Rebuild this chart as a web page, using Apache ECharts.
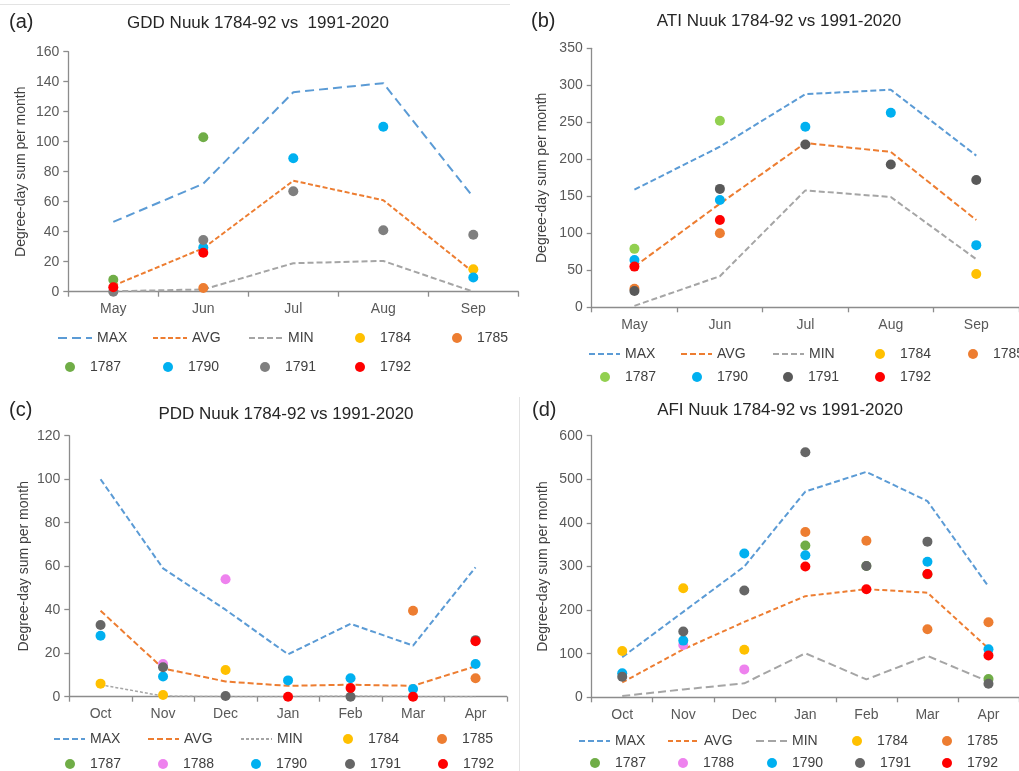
<!DOCTYPE html>
<html><head><meta charset="utf-8">
<script src="https://cdn.jsdelivr.net/npm/echarts@6/dist/echarts.min.js"></script>
<style>
html,body{margin:0;padding:0;background:#fff;}
.c{position:absolute;left:0;top:0;width:1019px;height:771px;}
</style></head><body>
<div id="pa" class="c"></div>
<div id="pb" class="c"></div>
<div id="pc" class="c"></div>
<div id="pd" class="c"></div>
<script>
// ---------- DATA ----------
const summerMonths = ['May', 'Jun', 'Jul', 'Aug', 'Sep'];
const winterMonths = ['Oct', 'Nov', 'Dec', 'Jan', 'Feb', 'Mar', 'Apr'];

// (a) GDD
const gddMax = [46.5, 72, 133, 139, 63];
const gddAvg = [4, 29, 74, 61, 13];
const gddMin = [0.3, 1.5, 19, 20.5, 0];
const gdd1784 = [null, null, null, null, 15];
const gdd1785 = [null, 2.5, null, null, null];
const gdd1787 = [8, 103, null, null, null];
const gdd1790 = [null, 29.5, 89, 110, 9.5];
const gdd1791 = [0, 34.5, 67, 41, 38];
const gdd1792 = [3, 26, null, null, null];

// (b) ATI
const atiMax = [159, 217, 288, 294, 205];
const atiAvg = [55, 140, 222, 210, 118];
const atiMin = [2, 42, 158, 149, 65];
const ati1784 = [null, null, null, null, 45];
const ati1785 = [25, 100, null, null, null];
const ati1787 = [79, 252, null, null, null];
const ati1790 = [64, 145, 244, 263, 84];
const ati1791 = [22, 160, 220, 193, 172];
const ati1792 = [55, 118, null, null, null];

// (c) PDD
const pddMax = [100, 59, 40, 19.5, 33.5, 23.5, 59.5];
const pddAvg = [39.5, 13, 7, 5, 5.5, 5, 14];
const pddMin = [5.5, 0.3, 0, 0, 0.3, 0, 0];
const pdd1784 = [6, 0.8, 12.3, null, null, null, null];
const pdd1785 = [null, null, null, null, null, 39.5, 8.5];
const pdd1787 = [null, null, null, null, null, null, null];
const pdd1788 = [null, 15, 54, null, null, null, null];
const pdd1790 = [28, 9.3, null, 7.5, 8.5, 3.5, 15];
const pdd1791 = [33, 13.5, 0.3, null, 0, null, 26];
const pdd1792 = [null, null, null, 0, 4, 0, 25.5];

// (d) AFI
const afiMax = [92, 196, 300, 472, 517, 450, 254];
const afiAvg = [34, 110, 173, 232, 248, 240, 112];
const afiMin = [3, 18, 32, 101, 41, 95, 36];
const afi1784 = [106, 250, 109, null, null, null, null];
const afi1785 = [null, null, null, 379, 359, 156, 172];
const afi1787 = [null, null, null, 348, 301, 282, 42];
const afi1788 = [null, 120, 64, null, null, null, null];
const afi1790 = [55, 130, 330, 326, null, 311, 110];
const afi1791 = [47, 151, 245, 562, 301, 357, 31];
const afi1792 = [null, null, null, 300, 248, 283, 96];

// ---------- STYLE ----------
const FONT = '"Liberation Sans", Arial, sans-serif';
const C = {
  MAX: '#5b9bd5', AVG: '#ed7d31', MIN: '#a5a5a5',
  y1784: '#ffc000', y1785: '#ed7d31', y1787: '#70ad47', y1787b: '#92d050',
  y1788: '#ee82ee', y1790: '#00b0f0', y1792: '#ff0000'
};
const AXIS = '#8c8c8c';

function lineS(name, data, color, dash, width) {
  return { name, type: 'line', data, symbol: 'none', showSymbol: false,
    lineStyle: { color, width: width || 2, type: dash }, itemStyle: { color }, z: 2, silent: true };
}
function dotS(name, data, color) {
  return { name, type: 'scatter', data, symbolSize: 10, itemStyle: { color, opacity: 1 }, z: 3, silent: true };
}
// one legend component per entry: [name, x, y]; x = line start or dot centre, y = centre
function legendItem(entry, lineW) {
  const [name, x, y] = entry;
  const isDot = /^\d/.test(name);
  const base = {
    selectedMode: false, padding: 0, orient: 'horizontal',
    textStyle: { fontSize: 14, color: '#404040', fontFamily: FONT, lineHeight: 16 }
  };
  if (isDot) {
    return Object.assign(base, {
      left: x - 5, top: y - 8, itemWidth: 10, itemHeight: 10,
      textStyle: Object.assign({}, base.textStyle, { padding: [0, 0, 0, 10] }),
      data: [{ name, icon: 'circle' }]
    });
  }
  return Object.assign(base, {
    left: x, top: y - 8, itemWidth: lineW, itemHeight: 10,
    data: [{ name, itemStyle: { opacity: 0 } }]
  });
}
function panelOption(p) {
  const border = (p.border || []).map(b => ({
    type: 'line', shape: { x1: b[0], y1: b[1], x2: b[2], y2: b[3] },
    style: { stroke: '#e3e3e3', lineWidth: 1 }, silent: true
  }));
  return {
    animation: false,
    textStyle: { fontFamily: FONT },
    grid: { left: p.grid[0], top: p.grid[1], width: p.grid[2], height: p.grid[3], containLabel: false },
    xAxis: {
      type: 'category', data: p.months, boundaryGap: true,
      axisLine: { show: true, lineStyle: { color: AXIS, width: 1.3 } },
      axisTick: { show: true, length: 5, inside: false, lineStyle: { color: AXIS, width: 1.3 } },
      axisLabel: { color: '#595959', fontSize: 14, margin: p.xMargin, fontFamily: FONT },
      splitLine: { show: false }
    },
    yAxis: {
      type: 'value', min: 0, max: p.ymax, interval: p.yint,
      axisLine: { show: true, lineStyle: { color: AXIS, width: 1.3 } },
      axisTick: { show: true, length: 5, lineStyle: { color: AXIS, width: 1.3 } },
      axisLabel: { color: '#595959', fontSize: 14, margin: 9, fontFamily: FONT },
      splitLine: { show: false },
      name: 'Degree-day sum per month', nameLocation: 'middle', nameGap: p.nameGap,
      nameTextStyle: { fontSize: 14, color: '#404040', fontFamily: FONT }
    },
    legend: p.legend.map(e => legendItem(e, p.lineW)),
    graphic: border.concat([
      { type: 'text', x: p.title[1], y: p.title[2],
        style: { text: p.title[0], fill: '#262626', fontSize: 17, fontFamily: FONT,
          align: 'center', verticalAlign: 'middle', textAlign: 'center', textVerticalAlign: 'middle' } },
      { type: 'text', x: p.letter[1], y: p.letter[2],
        style: { text: p.letter[0], fill: '#262626', fontSize: 20, fontFamily: FONT,
          align: 'left', verticalAlign: 'middle', textAlign: 'left', textVerticalAlign: 'middle' } }
    ]),
    series: p.series
  };
}

const panels = {
  pa: {
    months: summerMonths, grid: [68.3, 51.7, 450, 240], ymax: 160, yint: 20, nameGap: 40, xMargin: 10,
    title: ['GDD Nuuk 1784-92 vs  1991-2020', 258, 23], letter: ['(a)', 9, 22], lineW: 34,
    border: [[0, 4.5, 510, 4.5]],
    legend: [['MAX', 57, 338], ['AVG', 152, 338], ['MIN', 248, 338], ['1784', 360, 338], ['1785', 457, 338],
             ['1787', 70, 367], ['1790', 168, 367], ['1791', 265, 367], ['1792', 360, 367]],
    series: [
      lineS('MAX', gddMax, C.MAX, [9, 5]), lineS('AVG', gddAvg, C.AVG, [5, 2.5]), lineS('MIN', gddMin, C.MIN, [6, 3]),
      dotS('1784', gdd1784, C.y1784), dotS('1785', gdd1785, C.y1785), dotS('1787', gdd1787, C.y1787),
      dotS('1790', gdd1790, C.y1790), dotS('1791', gdd1791, '#7f7f7f'), dotS('1792', gdd1792, C.y1792)
    ]
  },
  pb: {
    months: summerMonths, grid: [591.7, 48.3, 438, 259], ymax: 350, yint: 50, nameGap: 43, xMargin: 11,
    title: ['ATI Nuuk 1784-92 vs 1991-2020', 779, 21], letter: ['(b)', 531, 21], lineW: 31,
    legend: [['MAX', 588, 354], ['AVG', 680, 354], ['MIN', 772, 354], ['1784', 880, 354], ['1785', 973, 354],
             ['1787', 605, 377], ['1790', 697, 377], ['1791', 788, 377], ['1792', 880, 377]],
    series: [
      lineS('MAX', atiMax, C.MAX, [6, 3]), lineS('AVG', atiAvg, C.AVG, [6, 3]), lineS('MIN', atiMin, C.MIN, [6, 3]),
      dotS('1784', ati1784, C.y1784), dotS('1785', ati1785, C.y1785), dotS('1787', ati1787, C.y1787b),
      dotS('1790', ati1790, C.y1790), dotS('1791', ati1791, '#595959'), dotS('1792', ati1792, C.y1792)
    ]
  },
  pc: {
    months: winterMonths, grid: [69.3, 435.7, 437.5, 261], ymax: 120, yint: 20, nameGap: 38, xMargin: 10,
    title: ['PDD Nuuk 1784-92 vs 1991-2020', 286, 414], letter: ['(c)', 9, 410], lineW: 31,
    legend: [['MAX', 53, 739], ['AVG', 147, 739], ['MIN', 240, 739], ['1784', 348, 739], ['1785', 442, 739],
             ['1787', 70, 764], ['1788', 163, 764], ['1790', 256, 764], ['1791', 350, 764], ['1792', 443, 764]],
    series: [
      lineS('MAX', pddMax, C.MAX, [6, 3]), lineS('AVG', pddAvg, C.AVG, [6, 3]), lineS('MIN', pddMin, C.MIN, [3, 2], 1.5),
      dotS('1784', pdd1784, C.y1784), dotS('1785', pdd1785, C.y1785), dotS('1787', pdd1787, C.y1787),
      dotS('1788', pdd1788, C.y1788), dotS('1790', pdd1790, C.y1790), dotS('1791', pdd1791, '#666666'),
      dotS('1792', pdd1792, C.y1792)
    ]
  },
  pd: {
    months: winterMonths, grid: [591.7, 435.7, 434, 261.6], ymax: 600, yint: 100, nameGap: 42, xMargin: 11,
    title: ['AFI Nuuk 1784-92 vs 1991-2020', 780, 410], letter: ['(d)', 532, 410], lineW: 31,
    border: [[519.5, 397, 519.5, 771]],
    legend: [['MAX', 578, 741], ['AVG', 667, 741], ['MIN', 755, 741], ['1784', 857, 741], ['1785', 947, 741],
             ['1787', 595, 763], ['1788', 683, 763], ['1790', 772, 763], ['1791', 860, 763], ['1792', 947, 763]],
    series: [
      lineS('MAX', afiMax, C.MAX, [6, 3]), lineS('AVG', afiAvg, C.AVG, [5, 3]), lineS('MIN', afiMin, C.MIN, [8, 4]),
      dotS('1784', afi1784, C.y1784), dotS('1785', afi1785, C.y1785), dotS('1787', afi1787, C.y1787),
      dotS('1788', afi1788, C.y1788), dotS('1790', afi1790, C.y1790), dotS('1791', afi1791, '#666666'),
      dotS('1792', afi1792, C.y1792)
    ]
  }
};

for (const id of Object.keys(panels)) {
  const chart = echarts.init(document.getElementById(id), null, { renderer: 'canvas' });
  chart.setOption(panelOption(panels[id]));
}
</script>
</body></html>
